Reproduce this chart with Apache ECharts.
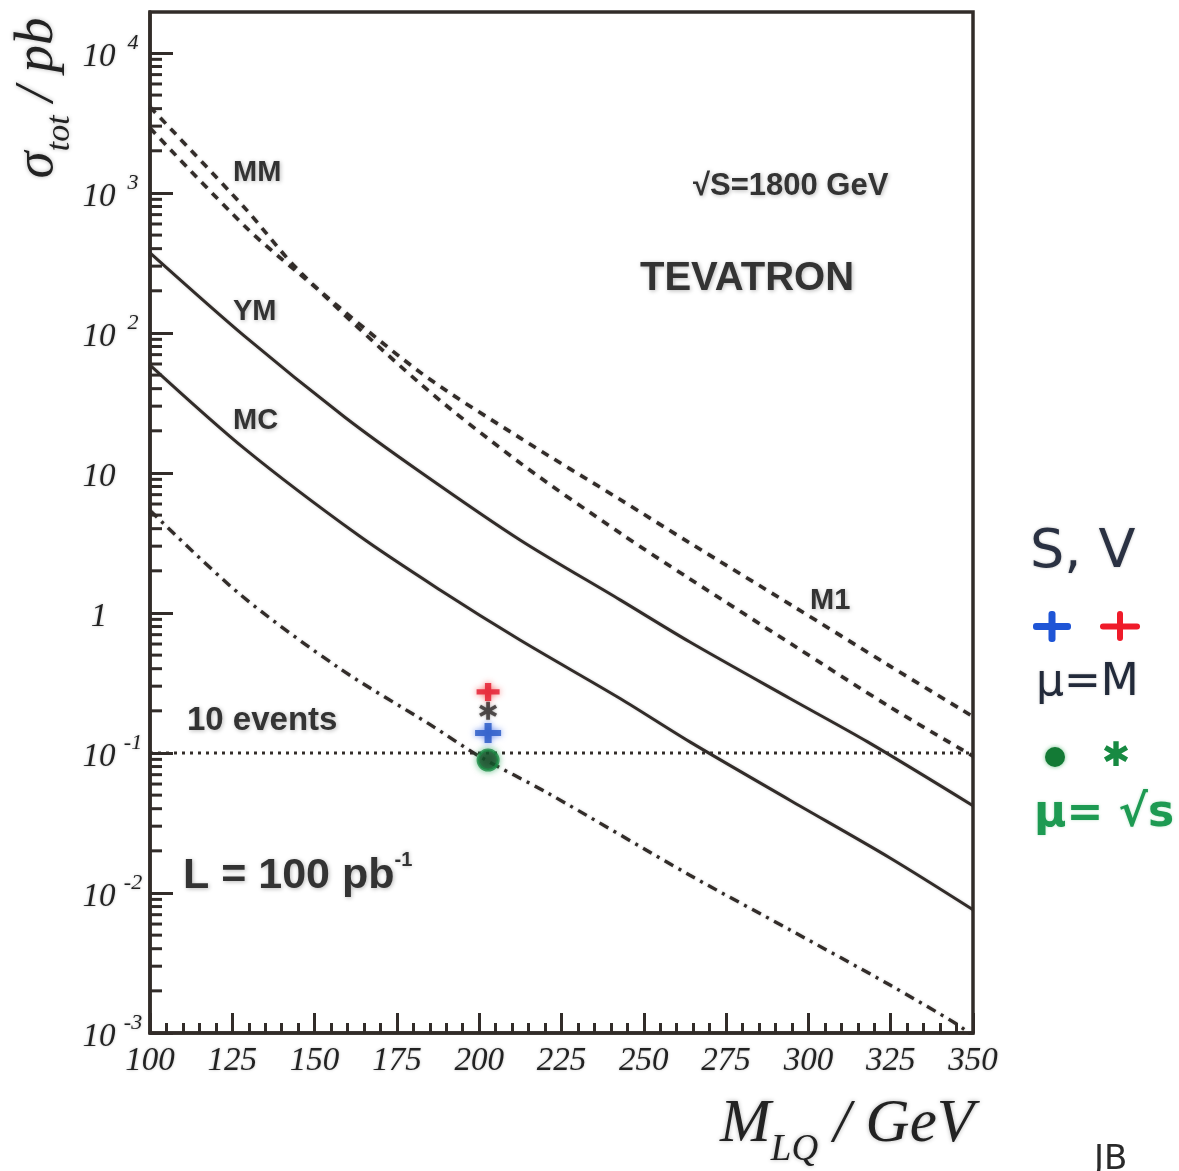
<!DOCTYPE html>
<html>
<head>
<meta charset="utf-8">
<script src="https://cdn.jsdelivr.net/npm/echarts@6/dist/echarts.min.js"></script>
<style>
  html, body { margin: 0; padding: 0; background: #ffffff; }
  #chart { width: 1179px; height: 1171px; }
</style>
</head>
<body>
<div id="chart"></div>
<script>
// curves: leptoquark mass (GeV) and cross section (pb)
const mmMass = [100, 128.9, 145, 182, 212.4, 242.8, 264, 295.3, 324.8, 350];
const mmXsec = [4110, 776, 282, 43.6, 11.8, 3.72, 1.75, 0.59, 0.213, 0.095];

const m1Mass = [100, 128.9, 145, 182, 212.4, 242.8, 264, 295.3, 324.8, 350];
const m1Xsec = [2910, 575, 269, 52.5, 17.8, 6.46, 3.16, 1.12, 0.417, 0.182];

const ymMass = [100, 128.9, 159.2, 182, 212.4, 242.8, 264, 294.4, 318, 350];
const ymXsec = [373, 94, 25, 10.2, 3.32, 1.24, 0.62, 0.245, 0.12, 0.042];

const mcMass = [100, 128.9, 163.2, 188.1, 212.4, 242.8, 264, 294.4, 324.8, 350];
const mcXsec = [59, 14.8, 3.6, 1.46, 0.641, 0.245, 0.12, 0.046, 0.0178, 0.0076];

// scalar (dash-dot)
const scMass = [100, 127.3, 157.7, 185, 200.4, 220.8, 264, 294.4, 324.8, 345, 350];
const scXsec = [5.4, 1.36, 0.40, 0.16, 0.0936, 0.0518, 0.0134, 0.00545, 0.0022, 0.00116, 0.00095];

// 10 events line
const eventsMass = [100, 350];
const eventsXsec = [0.1, 0.1];

// hand-drawn points at M = 200
const pointMass = [202.7];
const redPlus = [0.273];
const darkStar = [0.2];
const bluePlus = [0.139];
const greenDot = [0.089];

const xTicks = { min: 100, max: 350, step: 25 };
const yRange = { min: 0.001, max: 19600 };

const INK = '#322c29';
const SERIF = '"Liberation Serif", "DejaVu Serif", serif';
const SANS = '"Liberation Sans", Arial, sans-serif';

const zip = (xs, ys) => xs.map((x, i) => [x, ys[i]]);

// minor log ticks 2..9 in every decade
const yMinorTicks = [];
for (let k = -3; k <= 3; k++) {
  for (let m = 2; m <= 9; m++) yMinorTicks.push(m * Math.pow(10, k));
}

const chart = echarts.init(document.getElementById('chart'));

const plusPath = 'path://M8,0H14V7H22V13H14V20H8V13H0V7H8Z';
const starPath = 'path://M8,0H12V6.5L17.6,3.3L19.6,6.7L14,10L19.6,13.3L17.6,16.7L12,13.5V20H8V13.5L2.4,16.7L0.4,13.3L6,10L0.4,6.7L2.4,3.3L8,6.5Z';

const lineBase = (name, mass, xsec, type, width) => ({
  name, type: 'line', data: zip(mass, xsec),
  smooth: 0.3, showSymbol: false, silent: true,
  lineStyle: { color: INK, width: width, type: type, cap: 'butt',
    shadowColor: 'rgba(0,0,0,0.18)', shadowBlur: 3 },
  z: 4
});

const txt = (text, x, y, size, extra) => Object.assign({
  type: 'text', x: x, y: y,
  style: {
    text: text, fill: '#333', fontFamily: SANS, fontWeight: 'bold', fontSize: size,
    align: 'left', verticalAlign: 'middle',
    textShadowColor: 'rgba(0,0,0,0.28)', textShadowBlur: 4, textShadowOffsetX: 1, textShadowOffsetY: 1
  }
}, extra || {});

const option = {
  backgroundColor: '#ffffff',
  animation: false,
  grid: {
    left: 150, right: 206, top: 12, bottom: 138,
    show: true, borderColor: INK, borderWidth: 3.5, backgroundColor: 'transparent'
  },
  xAxis: {
    type: 'value', min: xTicks.min, max: xTicks.max, interval: xTicks.step,
    axisLine: { show: true, lineStyle: { color: INK, width: 3.5 } },
    axisTick: { show: true, inside: true, length: 20, lineStyle: { color: INK, width: 3 } },
    minorTick: { show: true, splitNumber: 5, length: 10, lineStyle: { color: INK, width: 3 } },
    splitLine: { show: false },
    axisLabel: {
      margin: 12, color: '#222', fontFamily: SERIF, fontStyle: 'italic', fontSize: 33,
      textShadowColor: 'rgba(0,0,0,0.25)', textShadowBlur: 3
    }
  },
  yAxis: {
    type: 'log', logBase: 10, min: yRange.min, max: yRange.max,
    axisLine: { show: true, lineStyle: { color: INK, width: 3.5 } },
    axisTick: { show: true, inside: true, length: 23, lineStyle: { color: INK, width: 3 } },
    splitLine: { show: false },
    axisLabel: {
      margin: 5, showMaxLabel: false,
      formatter: function (v) {
        const e = Math.round(Math.log10(v));
        if (e === 0) return '{b|1}{s| }';
        if (e === 1) return '{b|10}{s| }';
        return '{b|10}{s|' + e + '}';
      },
      rich: {
        b: { fontFamily: SERIF, fontStyle: 'italic', fontSize: 33, color: '#222', width: 44, align: 'center',
             padding: [8, 0, 0, 0], verticalAlign: 'bottom',
             textShadowColor: 'rgba(0,0,0,0.25)', textShadowBlur: 3 },
        s: { fontFamily: SERIF, fontStyle: 'italic', fontSize: 22, color: '#222', width: 24, align: 'left',
             verticalAlign: 'top', textShadowColor: 'rgba(0,0,0,0.25)', textShadowBlur: 3 }
      }
    }
  },
  series: [
    lineBase('MM', mmMass, mmXsec, [8, 7], 3.6),
    lineBase('M1', m1Mass, m1Xsec, [8, 7], 3.6),
    lineBase('YM', ymMass, ymXsec, 'solid', 3),
    lineBase('MC', mcMass, mcXsec, 'solid', 3),
    lineBase('S', scMass, scXsec, [10, 6, 3, 6], 3.4),
    {
      name: '10 events', type: 'line', data: zip(eventsMass, eventsXsec),
      showSymbol: false, silent: true,
      lineStyle: { color: INK, width: 3.2, type: [3, 5] }, z: 4
    },
    {
      name: 'y minor ticks', type: 'custom', silent: true,
      data: yMinorTicks.map(v => [xTicks.min, v]),
      renderItem: function (params, api) {
        const p = api.coord([api.value(0), api.value(1)]);
        return { type: 'line', shape: { x1: p[0], y1: p[1], x2: p[0] + 12, y2: p[1] },
                 style: { stroke: INK, lineWidth: 3 } };
      },
      z: 5
    },
    {
      name: 'green dot', type: 'scatter', data: zip(pointMass, greenDot),
      symbol: 'circle', symbolSize: 20,
      itemStyle: { color: '#123d1f', borderColor: '#1d8b45', borderWidth: 3, shadowColor: 'rgba(30,160,80,0.7)', shadowBlur: 6 },
      z: 6
    },
    {
      name: 'blue plus', type: 'scatter', data: zip(pointMass, bluePlus),
      symbol: plusPath, symbolSize: [26, 20],
      itemStyle: { color: '#2456c4', shadowColor: 'rgba(40,90,230,0.8)', shadowBlur: 6 },
      z: 6
    },
    {
      name: 'dark star', type: 'scatter', data: zip(pointMass, darkStar),
      symbol: starPath, symbolSize: [18, 18],
      itemStyle: { color: '#2f2b2b', shadowColor: 'rgba(0,0,0,0.4)', shadowBlur: 3 },
      z: 6
    },
    {
      name: 'red plus', type: 'scatter', data: zip(pointMass, redPlus),
      symbol: plusPath, symbolSize: [23, 18],
      itemStyle: { color: '#e3162a', shadowColor: 'rgba(240,40,40,0.8)', shadowBlur: 6 },
      z: 6
    }
  ],
  graphic: [
    // axis titles
    {
      type: 'text', x: 44, y: 98, rotation: Math.PI / 2,
      style: {
        text: '{g|σ}{t|tot}{g| / pb}', align: 'center', verticalAlign: 'middle',
        rich: {
          g: { fontFamily: SERIF, fontStyle: 'italic', fontSize: 55, fill: '#222', padding: [0, 0, 12, 0], verticalAlign: 'top',
               textShadowColor: 'rgba(0,0,0,0.3)', textShadowBlur: 4 },
          t: { fontFamily: SERIF, fontStyle: 'italic', fontSize: 34, fill: '#222', verticalAlign: 'bottom',
               textShadowColor: 'rgba(0,0,0,0.3)', textShadowBlur: 4 }
        }
      }
    },
    {
      type: 'text', x: 974, y: 1094,
      style: {
        text: '{g|M}{t|LQ}{g| / GeV}', align: 'right', verticalAlign: 'top',
        rich: {
          g: { fontFamily: SERIF, fontStyle: 'italic', fontSize: 61, fill: '#222', padding: [0, 0, 14, 0], verticalAlign: 'top',
               textShadowColor: 'rgba(0,0,0,0.3)', textShadowBlur: 4 },
          t: { fontFamily: SERIF, fontStyle: 'italic', fontSize: 37, fill: '#222', verticalAlign: 'bottom',
               textShadowColor: 'rgba(0,0,0,0.3)', textShadowBlur: 4 }
        }
      }
    },
    // curve labels and annotations
    txt('MM', 233, 173, 29),
    txt('YM', 233, 312, 29),
    txt('MC', 233, 421, 29),
    txt('M1', 810, 601, 29),
    txt('√S=1800 GeV', 693, 186, 31),
    txt('TEVATRON', 640, 279, 40),
    txt('10 events', 187, 721, 33),
    {
      type: 'text', x: 183, y: 874,
      style: {
        text: '{a|L = 100 pb}{b|-1}', align: 'left', verticalAlign: 'middle',
        rich: {
          a: { fontFamily: SANS, fontWeight: 'bold', fontSize: 43, fill: '#333', padding: [4, 0, 0, 0], verticalAlign: 'bottom',
               textShadowColor: 'rgba(0,0,0,0.28)', textShadowBlur: 4, textShadowOffsetX: 1, textShadowOffsetY: 1 },
          b: { fontFamily: SANS, fontWeight: 'bold', fontSize: 20, fill: '#333', verticalAlign: 'top',
               textShadowColor: 'rgba(0,0,0,0.28)', textShadowBlur: 4 }
        }
      }
    },
    // hand-written key on the right
    { type: 'text', x: 1030, y: 553, style: { text: 'S, V', fill: '#2a3142', fontFamily: '"DejaVu Sans", sans-serif', fontSize: 54, align: 'left', verticalAlign: 'middle', textShadowColor: 'rgba(0,0,0,0.25)', textShadowBlur: 3 } },
    { type: 'group', x: 1052, y: 626, children: [
      { type: 'rect', shape: { x: -19, y: -3, width: 38, height: 7, r: 3 }, style: { fill: '#1f55d6' } },
      { type: 'rect', shape: { x: -3.5, y: -15, width: 7, height: 31, r: 3 }, style: { fill: '#1f55d6' } }
    ] },
    { type: 'group', x: 1120, y: 626, children: [
      { type: 'rect', shape: { x: -20, y: -2.5, width: 40, height: 6, r: 3 }, style: { fill: '#ef1b2a' } },
      { type: 'rect', shape: { x: -3, y: -15, width: 6, height: 30, r: 3 }, style: { fill: '#ef1b2a' } }
    ] },
    { type: 'text', x: 1036, y: 684, style: { text: 'μ=M', fill: '#222a3a', fontFamily: '"DejaVu Sans", sans-serif', fontSize: 44, align: 'left', verticalAlign: 'middle', textShadowColor: 'rgba(0,0,0,0.2)', textShadowBlur: 3 } },
    { type: 'circle', shape: { cx: 1055, cy: 757, r: 10 }, style: { fill: '#137a35', shadowColor: 'rgba(20,150,60,0.6)', shadowBlur: 4 } },
    { type: 'text', x: 1116, y: 757, style: { text: '✱', fill: '#178a42', fontFamily: '"DejaVu Sans", sans-serif', fontSize: 34, align: 'center', verticalAlign: 'middle' } },
    { type: 'text', x: 1034, y: 815, style: { text: 'μ= √s', fill: '#1d9a52', fontFamily: '"DejaVu Sans", sans-serif', fontWeight: 'bold', fontSize: 44, align: 'left', verticalAlign: 'middle', textShadowColor: 'rgba(30,160,80,0.3)', textShadowBlur: 3 } },
    { type: 'text', x: 1094, y: 1160, style: { text: 'JB', fill: '#2a2a2a', fontFamily: '"DejaVu Sans", sans-serif', fontSize: 34, align: 'left', verticalAlign: 'middle' } }
  ]
};

chart.setOption(option);
</script>
</body>
</html>
